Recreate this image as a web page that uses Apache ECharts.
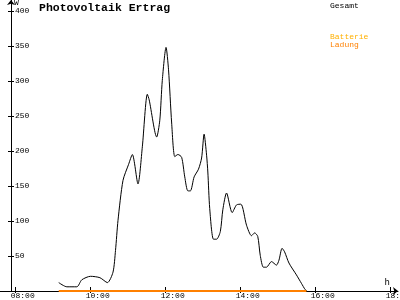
<!DOCTYPE html>
<html><head><meta charset="utf-8">
<script src="https://cdn.jsdelivr.net/npm/echarts@6/dist/echarts.min.js"></script>
<style>html,body{margin:0;padding:0;background:#fff}#c{width:400px;height:300px}</style>
</head><body><div id="c"></div>
<script>
// ---- data ----
const gesamtTimes = ['09:09','09:22','09:38','09:46','10:00','10:15','10:27','10:36','10:40','10:44','10:52','11:01','11:07','11:16','11:23','11:31','11:34','11:46','11:51','11:55','12:01','12:05','12:10','12:15','12:20','12:26','12:31','12:36','12:40','12:46','12:53','12:58','13:02','13:06','13:08','13:11','13:17','13:22','13:28','13:32','13:38','13:47','13:54','14:01','14:10','14:18','14:23','14:28','14:32','14:37','14:42','14:50','14:58','15:02','15:07','15:11','15:18','15:30','15:38','15:44','15:47'];
const gesamtValues = [12,6,6,16,21,19,12,27,58,101,158,181,195,153,206,281,273,220,244,301,348,316,240,192,195,191,163,143,143,163,174,190,224,194,170,118,74,74,85,116,140,112,123,124,94,79,83,78,51,34,34,42,37,44,61,56,40,23,11,2,0];
const ladungTimes = ['09:09','15:46'];
const ladungValues = [0,0];
const batterieTimes = [];
const batterieValues = [];
const xTickLabels = ['08:00','10:00','12:00','14:00','16:00','18:00'];
const seriesNames = ['Gesamt','Batterie','Ladung'];
const title = 'Photovoltaik Ertrag';

function toHours(t){const p=t.split(':');return +p[0]+ (+p[1])/60;}
function pairs(ts,vs){return ts.map((t,i)=>[toHours(t),vs[i]]);}

const FONT='Liberation Mono';
const chart = echarts.init(document.getElementById('c'), null, {renderer:'canvas'});
const noTick={show:false}, noLabel={show:false}, noSplit={show:false};
chart.setOption({
  backgroundColor:'#fff',
  animation:false,
  title:{text:title,left:39,top:2,padding:0,textStyle:{fontFamily:FONT,fontWeight:'bold',fontSize:11.5,color:'#000'}},
  legend:[
    {data:[{name:seriesNames[0],textStyle:{color:'#000'}}],left:325,top:1.5,padding:0,icon:'none',itemWidth:0,itemHeight:8,
     textStyle:{fontFamily:FONT,fontSize:8}},
    {data:[{name:seriesNames[1],textStyle:{color:'#ffb000'}},{name:seriesNames[2],textStyle:{color:'#ff8000'}}],
     orient:'vertical',left:325,top:33,padding:0,itemGap:0,icon:'none',itemWidth:0,itemHeight:8,
     textStyle:{fontFamily:FONT,fontSize:8}}
  ],
  grid:[
    {left:15.7,right:10,top:11,bottom:9,containLabel:false,outerBoundsMode:'none'},
    {left:0,right:2,top:0,bottom:9,containLabel:false,outerBoundsMode:'none'},
    {left:10.7,right:14.3,top:11,bottom:9,containLabel:false,outerBoundsMode:'none'}
  ],
  xAxis:[
    {type:'value',gridIndex:0,position:'bottom',min:8,max:18,interval:2,axisLine:{show:false,onZero:false},
     axisTick:{show:true,inside:true,length:4,lineStyle:{color:'#000'}},axisLabel:noLabel,splitLine:noSplit,
     name:'h',nameLocation:'end',nameGap:0,nameTextStyle:{fontFamily:FONT,fontSize:9,color:'#000',align:'right',verticalAlign:'bottom',padding:[0,0,4,0]}},
    {type:'value',gridIndex:0,position:'bottom',min:8,max:18,interval:2,axisLine:{show:false,onZero:false},
     axisTick:{show:true,inside:false,length:2,lineStyle:{color:'#000'}},axisLabel:noLabel,splitLine:noSplit},
    {type:'value',gridIndex:2,position:'bottom',min:8,max:18,interval:2,axisLine:{show:false,onZero:false},axisTick:noTick,splitLine:noSplit,
     axisLabel:{show:true,align:'left',margin:1,fontFamily:FONT,fontSize:8,color:'#000',formatter:(v,i)=>xTickLabels[i]}},
    {type:'value',gridIndex:1,position:'bottom',min:0,max:1,axisLine:{show:true,onZero:false,symbol:['none','arrow'],symbolSize:[6,5],lineStyle:{color:'#000',width:1}},
     axisTick:noTick,axisLabel:noLabel,splitLine:noSplit}
  ],
  yAxis:[
    {type:'value',gridIndex:0,position:'left',min:0,max:400,interval:50,offset:4.7,axisLine:{show:false,onZero:false},
     axisTick:{show:true,inside:false,length:3,lineStyle:{color:'#000'}},splitLine:noSplit,
     axisLabel:{show:true,inside:true,margin:4,showMinLabel:false,fontFamily:FONT,fontSize:8,color:'#000'},
     name:'W',nameLocation:'end',nameGap:3,nameTextStyle:{fontFamily:FONT,fontSize:8,color:'#000',align:'left',verticalAlign:'bottom',padding:[0,0,0,3]}},
    {type:'value',gridIndex:0,position:'left',min:0,max:400,interval:50,offset:4.7,axisLine:{show:false,onZero:false},
     axisTick:{show:true,inside:true,length:3,lineStyle:{color:'#000'}},axisLabel:noLabel,splitLine:noSplit},
    {type:'value',gridIndex:1,position:'left',min:0,max:1,offset:-11,axisLine:{show:true,onZero:false,symbol:['none','arrow'],symbolSize:[6,5],lineStyle:{color:'#000',width:1}},
     axisTick:noTick,axisLabel:noLabel,splitLine:noSplit},
    {type:'value',gridIndex:2,position:'left',min:0,max:1,axisLine:{show:false,onZero:false},axisTick:noTick,axisLabel:noLabel,splitLine:noSplit}
  ],
  series:[
    {name:seriesNames[0],type:'line',xAxisIndex:0,yAxisIndex:0,data:pairs(gesamtTimes,gesamtValues),showSymbol:false,smooth:0.25,
     lineStyle:{color:'#000',width:1},itemStyle:{color:'#000'},z:3},
    {name:seriesNames[1],type:'line',xAxisIndex:0,yAxisIndex:0,data:pairs(batterieTimes,batterieValues),showSymbol:false,
     lineStyle:{color:'#ffb000',width:2},itemStyle:{color:'#ffb000'},z:4},
    {name:seriesNames[2],type:'line',xAxisIndex:0,yAxisIndex:0,data:pairs(ladungTimes,ladungValues),showSymbol:false,
     lineStyle:{color:'#ff8000',width:2},itemStyle:{color:'#ff8000'},z:5}
  ]
});
</script></body></html>
